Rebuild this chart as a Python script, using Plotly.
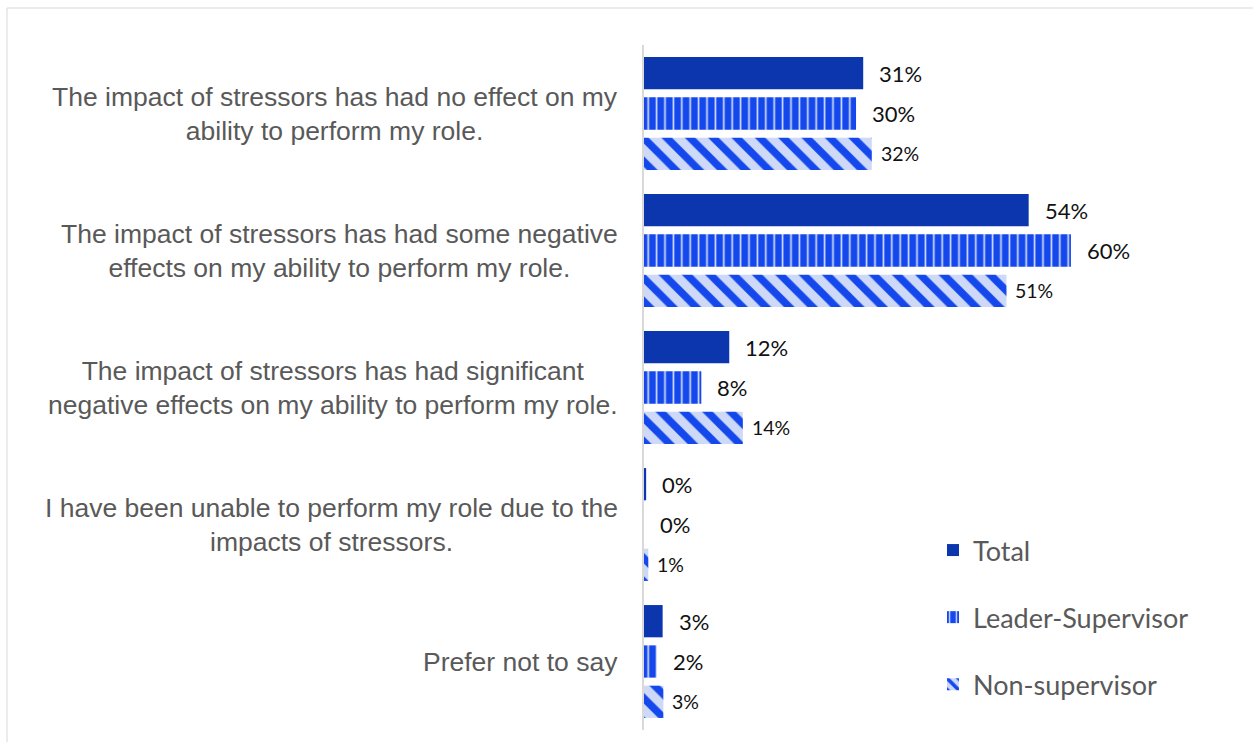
import plotly.graph_objects as go

# Survey responses: share of respondents per statement (%)
categories = [
    "The impact of stressors has had no effect on my<br>ability to perform my role.",
    "The impact of stressors has had some negative<br>effects on my ability to perform my role.",
    "The impact of stressors has had significant<br>negative effects on my ability to perform my role.",
    "I have been unable to perform my role due to the<br>impacts of stressors.",
    "Prefer not to say",
]
total = [30.6, 53.7, 11.9, 0.3, 2.6]
leader_supervisor = [29.6, 59.6, 8.0, 0.0, 1.8]
non_supervisor = [31.8, 50.6, 13.8, 0.6, 2.7]

series_names = ["Total", "Leader-Supervisor", "Non-supervisor"]

DARK_BLUE = "#0B36AE"
BRIGHT_BLUE = "#1448EC"
PALE_BLUE = "#CDD9F7"
LABEL_GREY = "#595959"

W, H = 1253, 742
M_L, M_R, M_T, M_B = 644, 13, 45, 12
PLOT_W = W - M_L - M_R
PLOT_H = H - M_T - M_B
X_MAX = 83.2
BARGAP = 0.117
BARGROUPGAP = 0.2

ypos = list(range(len(categories)))

fig = go.Figure()

fig.add_trace(go.Bar(
    name=series_names[0], y=ypos, x=total, orientation="h",
    marker=dict(color=DARK_BLUE, line=dict(width=0)),
    legendgroup="a", hoverinfo="skip",
))
fig.add_trace(go.Bar(
    name=series_names[1], y=ypos, x=leader_supervisor, orientation="h",
    marker=dict(
        color=BRIGHT_BLUE, line=dict(width=0),
        pattern=dict(shape="|", bgcolor=BRIGHT_BLUE, fgcolor="#D3DDFA",
                     fgopacity=1, size=8.4, solidity=0.2, fillmode="overlay"),
    ),
    legendgroup="b", hoverinfo="skip",
))
fig.add_trace(go.Bar(
    name=series_names[2], y=ypos, x=non_supervisor, orientation="h",
    marker=dict(
        color=PALE_BLUE, line=dict(width=0),
        pattern=dict(shape="\\", bgcolor=PALE_BLUE, fgcolor=BRIGHT_BLUE,
                     fgopacity=1, size=16.5, solidity=0.45, fillmode="overlay"),
    ),
    legendgroup="c", hoverinfo="skip",
))

# Value labels placed just past the end of each bar
slot = (1 - BARGAP) / 3
annotations = []
for k, (vals, size, shift) in enumerate([
    (total, 22, 14),
    (leader_supervisor, 22, 14),
    (non_supervisor, 19.5, 7),
]):
    offset = (k - 1) * slot
    for i, v in enumerate(vals):
        annotations.append(dict(
            x=v, y=i + offset, xref="x", yref="y",
            text=f"{v:.0f}%", showarrow=False,
            xanchor="left", yanchor="middle", xshift=shift,
            font=dict(family="Lato", size=size, color="#111111"),
        ))

# Category labels: centred text block, right-aligned against the axis
label_font = dict(family="Arial, 'Liberation Sans', sans-serif",
                  size=26.5, color=LABEL_GREY)
for i, cat in enumerate(categories):
    annotations.append(dict(
        x=0, y=i, xref="paper", yref="y",
        text=cat, showarrow=False, align="center",
        xanchor="right", yanchor="middle", xshift=-24,
        font=label_font,
    ))

def px_x(p):
    return (p - M_L) / PLOT_W

def px_y(p):
    return (H - M_B - p) / PLOT_H

fig.update_layout(
    width=W, height=H, autosize=False,
    margin=dict(l=M_L, r=M_R, t=M_T, b=M_B),
    paper_bgcolor="white", plot_bgcolor="white",
    barmode="group", bargap=BARGAP, bargroupgap=BARGROUPGAP,
    xaxis=dict(range=[0, X_MAX], visible=False, fixedrange=True),
    yaxis=dict(
        autorange="reversed", showticklabels=False, showgrid=False,
        zeroline=False, ticks="", showline=True, linecolor="#d9d9d9",
        linewidth=1.5, range=[len(categories) - 0.5, -0.5],
    ),
    showlegend=True,
    legend=dict(
        x=px_x(933), y=px_y(526), xanchor="left", yanchor="top",
        traceorder="grouped", tracegroupgap=29,
        font=dict(family="Lato", size=27, color=LABEL_GREY),
        bgcolor="rgba(0,0,0,0)", itemclick=False, itemdoubleclick=False,
    ),
    annotations=annotations,
    shapes=[dict(
        type="rect", xref="paper", yref="paper",
        x0=px_x(7), x1=px_x(1270), y0=px_y(760), y1=px_y(8),
        line=dict(color="#d9d9d9", width=1), fillcolor="rgba(0,0,0,0)",
        layer="below",
    )],
)

fig.write_html("out.html", config={"displayModeBar": False})
